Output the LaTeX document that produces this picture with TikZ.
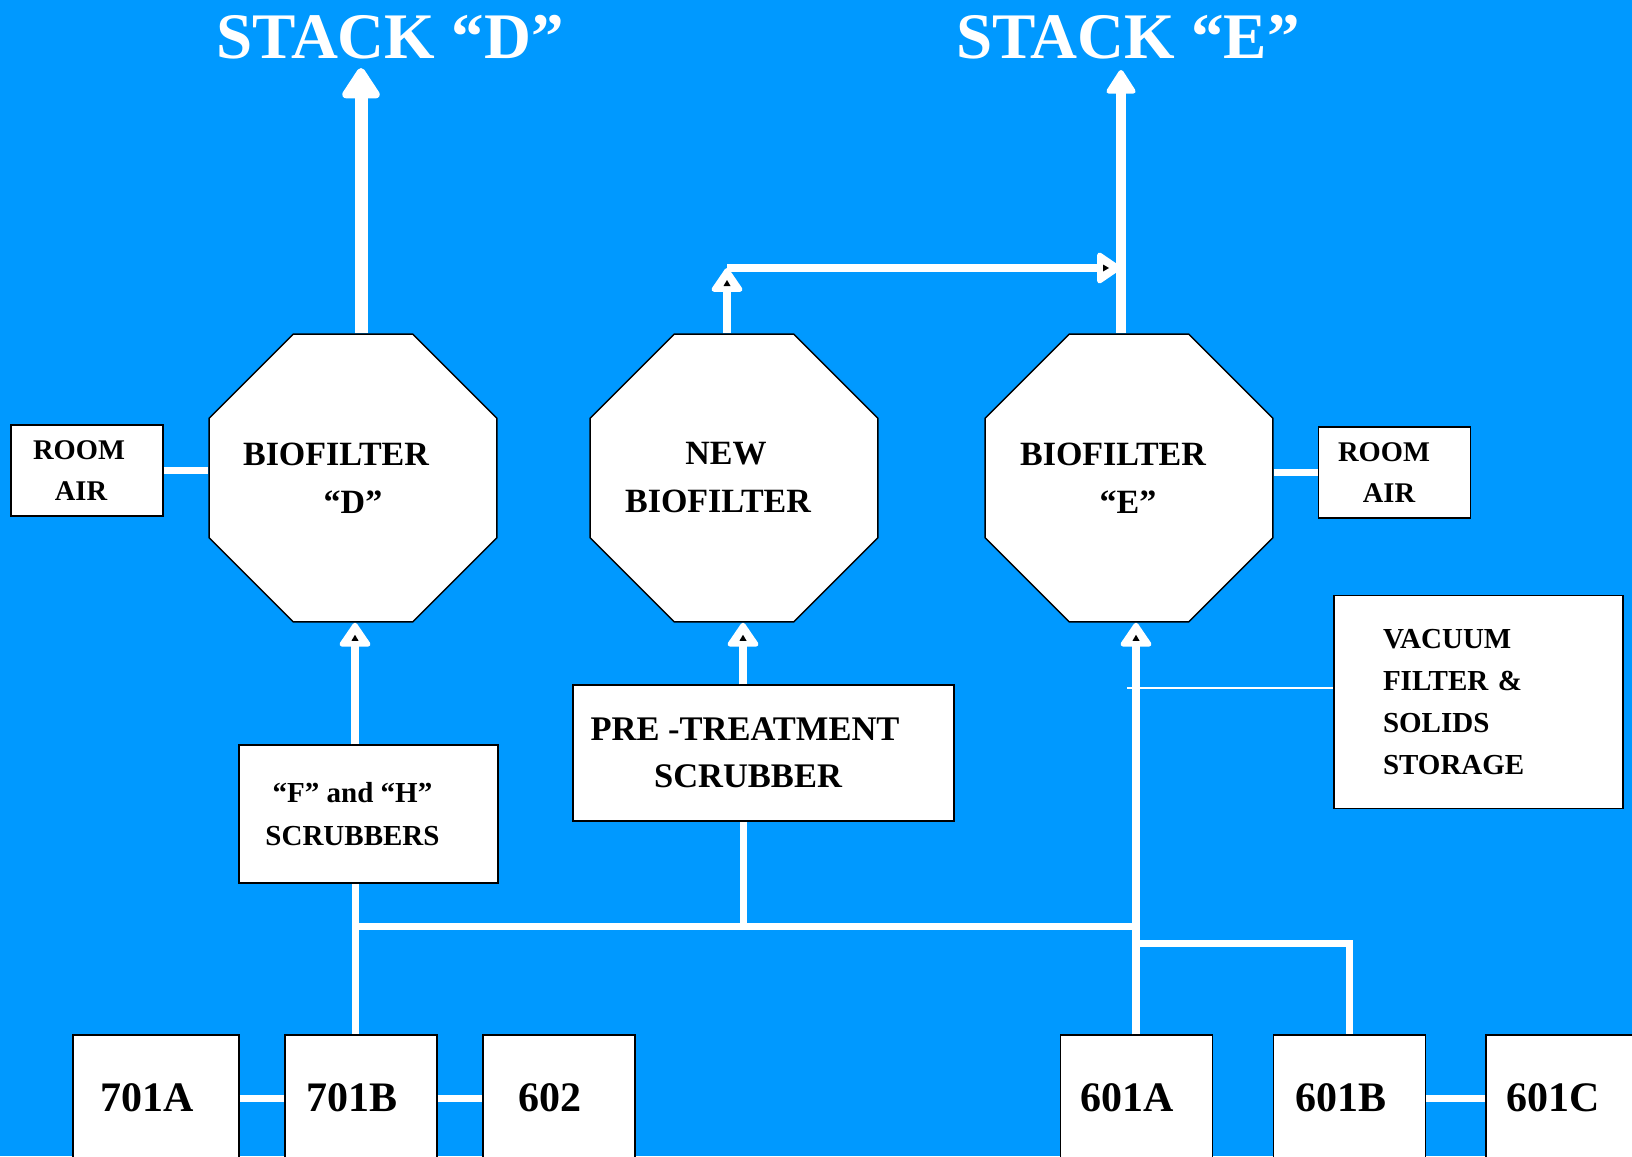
\documentclass[tikz,border=0pt]{standalone}
\usepackage{fontspec}
\setmainfont{Liberation Serif}
\usetikzlibrary{arrows.meta}
\usetikzlibrary{shapes.geometric}
\usetikzlibrary{decorations.markings}
\definecolor{bgblue}{HTML}{0099FF}

\begin{document}
\begin{tikzpicture}[x=1pt,y=-1pt]
  \tikzset{oct/.style = {regular polygon,regular polygon sides=8,draw=black,fill=white,line width=1.5pt,minimum size=311.7pt,inner sep=-40pt,align=center,font=\bfseries\fontsize{34}{48}\selectfont}}
  \tikzset{box/.style = {rectangle,draw=black,fill=white,line width=1.5pt,inner sep=0pt}}
  \tikzset{room/.style = {box,minimum width=152pt,minimum height=91pt,align=center,font=\bfseries\fontsize{28.5}{41}\selectfont}}
  \tikzset{unit/.style = {box,minimum width=152pt,minimum height=126pt,font=\bfseries\fontsize{42}{48}\selectfont,execute at end node={\hspace*{18pt}}}}
  \tikzset{stack/.style = {text=white,font=\bfseries\fontsize{65}{70}\selectfont}}
  \tikzset{pipe/.style = {draw=white,line width=7pt}}
  \tikzset{flow/.style = {draw=white,line width=8.5pt,-{Triangle[round,line width=5pt,length=26pt,width=34pt]},
      postaction={decorate,decoration={markings,mark=at position 1 with {\fill[black] (-12pt,0pt) -- (-18pt,3.5pt) -- (-18pt,-3.5pt) -- cycle;}}}}}

  \fill[bgblue] (0,0) rectangle (1632,1156);
  \useasboundingbox (0,0) rectangle (1632,1156);

  % stacks
  \node[stack,anchor=base] (stkD) at (390,59) {STACK “D”};
  \node[stack,anchor=base] (stkE) at (1128,59) {STACK “E”};

  % biofilters
  \node[oct] (octD) at (353,478) {BIOFILTER\hspace*{34pt}\\“D”};
  \node[oct] (octN) at (734,478) {NEW\hspace*{16pt}\\BIOFILTER\hspace*{32pt}};
  \node[oct] (octE) at (1129,478) {BIOFILTER\hspace*{32pt}\\“E”\hspace*{2pt}};

  \node[room] (roomL) at (87,470.5) {ROOM\hspace*{16pt}\\AIR\hspace*{12pt}};
  \node[room] (roomR) at (1394.5,472.5) {ROOM\hspace*{21pt}\\AIR\hspace*{11pt}};

  \node[box,minimum width=259pt,minimum height=138pt,align=center,font=\bfseries\fontsize{29}{43}\selectfont] (fh) at (368.5,814) {“F” and “H”\hspace*{32pt}\\SCRUBBERS\hspace*{32pt}};
  \node[box,minimum width=381pt,minimum height=136pt,align=center,font=\bfseries\fontsize{34.5}{47}\selectfont] (pre) at (763.5,753) {PRE -TREATMENT\hspace*{37pt}\\SCRUBBER\hspace*{31pt}};
  \node[box,minimum width=289pt,minimum height=213pt,text width=191pt,align=left,font=\bfseries\fontsize{29}{42.3}\selectfont] (vac) at (1478.5,702) {VACUUM\\FILTER \&\\SOLIDS\\STORAGE};

  % sources
  \node[unit,minimum width=166pt] (u701A) at (156,1098) {701A};
  \node[unit] (u701B) at (361,1098) {701B};
  \node[unit] (u602) at (559,1098) {602};
  \node[unit] (u601A) at (1136.5,1098) {601A};
  \node[unit] (u601B) at (1349.5,1098) {601B};
  \node[unit] (u601C) at (1562,1098) {601C};

  \coordinate (sD) at (361,68);
  \coordinate (sE) at (1121,70);
  \coordinate (nb) at (727,268);
  \coordinate (jD) at (355,926);
  \coordinate (jN) at (743,926);
  \coordinate (jE) at (1136,926);
  \coordinate (jF) at (1136,943);
  \coordinate (jV) at (1127,688);

  \draw[draw=white,line width=13pt,-{Triangle[round,line width=8pt,length=34pt,width=42pt]}] (octD.north -| sD) -- (sD);
  \draw[flow] (octN.north -| nb) -- (nb);
  \draw[flow] (nb) -- (nb -| sE);
  \draw[draw=white,line width=10pt,-{Triangle[round,line width=5pt,length=26pt,width=32pt]}] (octE.north -| sE) -- (sE);

  \draw[flow] (fh.north -| jD) -- (octD.south -| jD);
  \draw[flow] (pre.north -| jN) -- (octN.south -| jN);
  \draw[flow] (u601A.north -| jE) -- (octE.south -| jE);
  \draw[pipe] (fh.south -| jD) -- (u701B.north -| jD);
  \draw[pipe] (pre.south -| jN) -- (jN);
  \draw[pipe] (jD) -- (jE);
  \draw[pipe] (jF) -| (u601B.north);
  \draw[white,line width=2pt] (jV) -- (jV -| vac.west);
  \draw[pipe] (roomL.east) -- (roomL.east -| octD.west);
  \draw[pipe] (roomR.west -| octE.east) -- (roomR.west);
  \foreach \from/\to in {u701A/u701B, u701B/u602, u601B/u601C}
    \draw[pipe] (\from.east) -- (\to.west);
\end{tikzpicture}
\end{document}
